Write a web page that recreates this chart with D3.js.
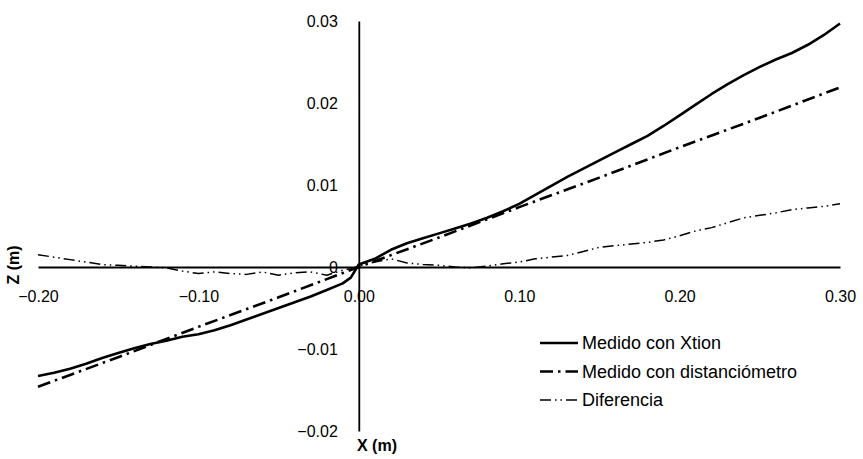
<!DOCTYPE html>
<html>
<head>
<meta charset="utf-8">
<script src="https://cdn.jsdelivr.net/npm/d3@7/dist/d3.min.js"></script>
<style>
  body { margin: 0; background: #fff; }
  text { font-family: "Liberation Sans", Arial, sans-serif; fill: #000; }
</style>
</head>
<body>
<svg id="chart" width="863" height="459"></svg>
<script>
// X positions (m)
const xs = [-0.20, -0.19, -0.18, -0.17, -0.16, -0.15, -0.14, -0.13, -0.12, -0.11,
  -0.10, -0.09, -0.08, -0.07, -0.06, -0.05, -0.04, -0.03, -0.02, -0.01, -0.005,
  0.00, 0.01, 0.02, 0.03, 0.04, 0.05, 0.06, 0.07, 0.08, 0.09,
  0.10, 0.11, 0.12, 0.13, 0.14, 0.15, 0.16, 0.17, 0.18, 0.19,
  0.20, 0.21, 0.22, 0.23, 0.24, 0.25, 0.26, 0.27, 0.28, 0.29, 0.30];

// Medido con Xtion
const xtion = [-0.0133, -0.0129, -0.0124, -0.0118, -0.0111, -0.0105, -0.0099, -0.0094, -0.0090, -0.0085,
  -0.0082, -0.0077, -0.0071, -0.0064, -0.0057, -0.0050, -0.0043, -0.0036, -0.0028, -0.0020, -0.0013,
  0.0003, 0.0010, 0.0021, 0.0029, 0.0035, 0.0041, 0.0047, 0.0053, 0.0060, 0.0068,
  0.0077, 0.0088, 0.0099, 0.0110, 0.0120, 0.0130, 0.0140, 0.0150, 0.0160, 0.0172,
  0.0185, 0.0198, 0.0211, 0.0223, 0.0234, 0.0244, 0.0253, 0.0261, 0.0271, 0.0283, 0.0297];

// Diferencia
const diferencia = [0.0015, 0.0012, 0.0009, 0.0006, 0.0003, 0.0002, 0.0001, 0.0000, -0.0001, -0.0005,
  -0.0008, -0.0006, -0.0008, -0.0009, -0.0006, -0.0010, -0.0007, -0.0006, -0.0010, -0.0004, -0.0002,
  0.0001, 0.0006, 0.0010, 0.0005, 0.0003, 0.0002, 0.0000, -0.0001, 0.0001, 0.0004,
  0.0006, 0.0010, 0.0012, 0.0014, 0.0019, 0.0024, 0.0026, 0.0028, 0.0030, 0.0033,
  0.0038, 0.0044, 0.0048, 0.0054, 0.0060, 0.0063, 0.0066, 0.0070, 0.0072, 0.0074, 0.0077];

// Medido con distanciómetro
const distX = [-0.20, -0.15, -0.10, -0.05, 0.00, 0.05, 0.10, 0.15, 0.20, 0.25, 0.30];
const distZ = [-0.0146, -0.0110, -0.0073, -0.0037, 0.0000, 0.0036, 0.0073, 0.0109, 0.0146, 0.0182, 0.0219];

const xTicks = [-0.20, -0.10, 0.00, 0.10, 0.20, 0.30];
const yTicks = [-0.02, -0.01, 0, 0.01, 0.02, 0.03];
const legendNames = ["Medido con Xtion", "Medido con distanciómetro", "Diferencia"];

const svg = d3.select("#chart");
const x = d3.scaleLinear().domain([-0.2, 0.3]).range([38, 840]);
const y = d3.scaleLinear().domain([-0.02, 0.03]).range([431, 21]);

const styles = [
  { width: 2.6, dash: null },
  { width: 2.6, dash: "13,5,2.5,5" },
  { width: 1.5, dash: "11,4,1.5,4,1.5,4" }
];

// axes
const xAxis = svg.append("g")
  .attr("transform", `translate(0,${y(0)})`)
  .call(d3.axisBottom(x).tickValues(xTicks).tickSize(0).tickPadding(24).tickFormat(d3.format(".2f")));
xAxis.select(".domain").attr("stroke", "#000").attr("stroke-width", 2);

const yAxis = svg.append("g")
  .attr("transform", `translate(${x(0)},0)`)
  .call(d3.axisLeft(y).tickValues(yTicks).tickSize(0).tickPadding(21)
    .tickFormat(d => d === 0 ? "0" : d3.format(".2f")(d)));
yAxis.select(".domain").attr("stroke", "#000").attr("stroke-width", 1.8);

svg.selectAll(".tick text").attr("font-size", 16).attr("font-family", "Liberation Sans, Arial, sans-serif");

// series
const line = d3.line().x(d => x(d[0])).y(d => y(d[1]));
const series = [
  d3.zip(xs, xtion),
  d3.zip(distX, distZ),
  d3.zip(xs, diferencia)
];

series.forEach((s, i) => {
  svg.append("path")
    .datum(s)
    .attr("fill", "none")
    .attr("stroke", "#000")
    .attr("stroke-width", styles[i].width)
    .attr("stroke-linejoin", "round")
    .attr("stroke-dasharray", styles[i].dash)
    .attr("d", line);
});

// legend
const legend = svg.append("g").attr("transform", "translate(540,343)");
legendNames.forEach((name, i) => {
  const g = legend.append("g").attr("transform", `translate(0,${i * 28.5})`);
  g.append("line")
    .attr("x1", 0).attr("x2", 38).attr("y1", 0).attr("y2", 0)
    .attr("stroke", "#000")
    .attr("stroke-width", styles[i].width)
    .attr("stroke-dasharray", styles[i].dash);
  g.append("text")
    .attr("x", 42).attr("y", 0).attr("dy", "0.35em")
    .attr("font-size", 18)
    .text(name);
});

// axis titles
svg.append("text")
  .attr("x", 377).attr("y", 451)
  .attr("text-anchor", "middle")
  .attr("font-size", 16).attr("font-weight", "bold")
  .text("X (m)");

svg.append("text")
  .attr("transform", `translate(19,${y(0) - 2}) rotate(-90)`)
  .attr("text-anchor", "middle")
  .attr("font-size", 16).attr("font-weight", "bold")
  .text("Z (m)");
</script>
</body>
</html>
